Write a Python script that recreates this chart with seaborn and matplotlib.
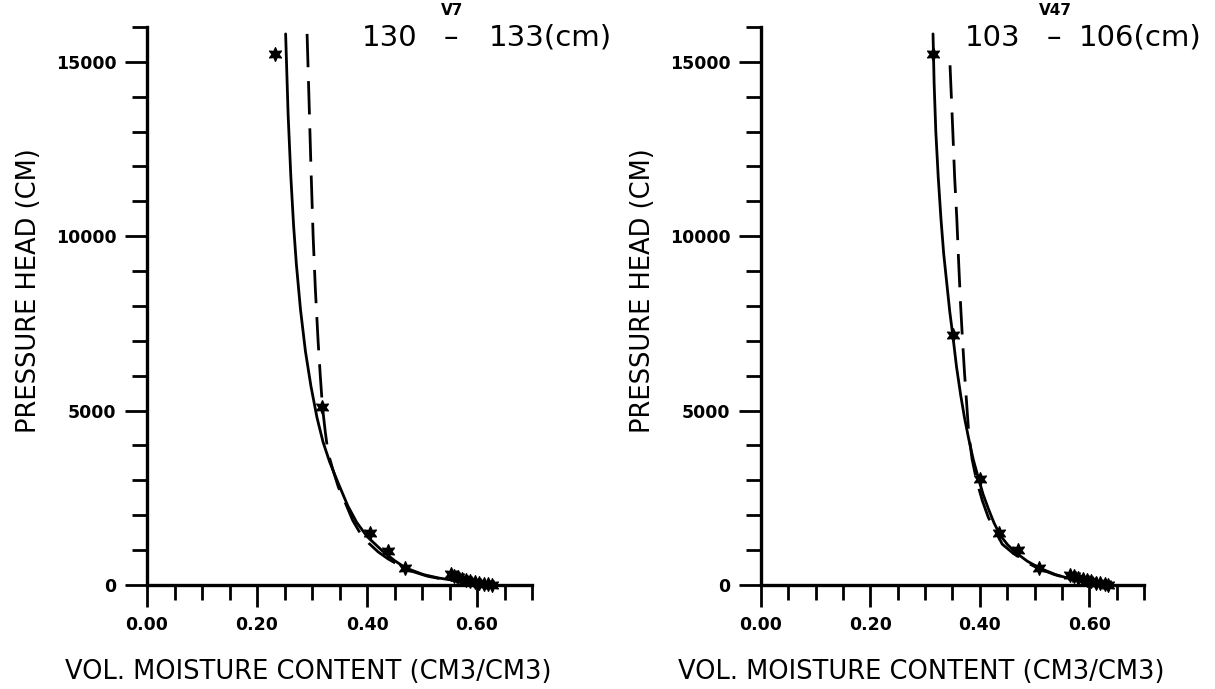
import matplotlib
matplotlib.use("Agg")
import matplotlib.pyplot as plt
import seaborn as sns
import pandas as pd
from matplotlib.ticker import MultipleLocator, FixedLocator

# ---- left panel: V7, 130-133 cm ----
v7_obs_theta = [0.233, 0.319, 0.405, 0.438, 0.469, 0.552, 0.558, 0.565, 0.572, 0.580, 0.588, 0.596, 0.604, 0.612, 0.620, 0.627]
v7_obs_head = [15215, 5105, 1490, 975, 490, 300, 260, 220, 180, 145, 110, 80, 55, 35, 15, 5]

v7_fit_head = [15800, 13500, 11700, 10300, 9200, 7900, 6700, 5700, 4800, 4100, 3530, 2980, 2270, 1800, 1390, 975, 700, 490, 300, 200, 100, 40, 0]
v7_fit_theta = [0.252, 0.2565, 0.2615, 0.2665, 0.2715, 0.279, 0.288, 0.298, 0.309, 0.320, 0.332, 0.346, 0.365, 0.381, 0.400, 0.428, 0.450, 0.470, 0.502, 0.530, 0.570, 0.600, 0.627]

v7_alt_head = [15800, 14200, 12000, 10000, 8500, 7000, 6000, 5100, 4400, 3800, 3300, 2800, 2300, 1850, 1500, 1200, 950, 750, 550, 400, 250, 130, 40, 0]
v7_alt_theta = [0.291, 0.294, 0.298, 0.302, 0.306, 0.311, 0.315, 0.319, 0.324, 0.329, 0.338, 0.348, 0.362, 0.374, 0.387, 0.403, 0.420, 0.438, 0.460, 0.480, 0.510, 0.550, 0.595, 0.627]

# ---- right panel: V47, 103-106 cm ----
v47_obs_theta = [0.3145, 0.3507, 0.400, 0.436, 0.470, 0.509, 0.565, 0.572, 0.580, 0.588, 0.596, 0.604, 0.612, 0.620, 0.628, 0.634]
v47_obs_head = [15214, 7154, 3035, 1486, 1010, 490, 280, 245, 205, 170, 135, 100, 70, 45, 20, 5]

v47_fit_head = [15800, 14400, 13000, 11700, 10500, 9500, 8600, 7850, 7150, 6250, 5450, 4800, 4200, 3600, 3050, 2600, 2180, 1780, 1420, 1150, 920, 680, 480, 300, 165, 60, 0]
v47_fit_theta = [0.3145, 0.3165, 0.3196, 0.324, 0.329, 0.334, 0.340, 0.345, 0.3507, 0.3575, 0.365, 0.372, 0.3796, 0.388, 0.3977, 0.406, 0.4158, 0.426, 0.4375, 0.451, 0.4664, 0.487, 0.510, 0.538, 0.5676, 0.600, 0.636]

v47_alt_head = [14900, 13000, 11700, 10500, 9200, 8000, 7000, 6100, 5200, 4300, 3600, 3000, 2400, 1930, 1500, 1170, 920, 680, 480, 300, 165, 60, 0]
v47_alt_theta = [0.3456, 0.3507, 0.354, 0.358, 0.3615, 0.365, 0.3685, 0.372, 0.376, 0.380, 0.386, 0.394, 0.405, 0.4158, 0.430, 0.441, 0.460, 0.482, 0.506, 0.536, 0.566, 0.600, 0.636]

x_major = [0.0, 0.2, 0.4, 0.6]
x_labels = ["0.00", "0.20", "0.40", "0.60"]
y_major = [0, 5000, 10000, 15000]
y_labels = ["0", "5000", "10000", "15000"]

panels = [
    dict(obs=(v7_obs_theta, v7_obs_head), fit=(v7_fit_theta, v7_fit_head), alt=(v7_alt_theta, v7_alt_head),
         left="130", right="133(cm)", tag="V7", pos=(0.558, 0.788, 1.208)),
    dict(obs=(v47_obs_theta, v47_obs_head), fit=(v47_fit_theta, v47_fit_head), alt=(v47_alt_theta, v47_alt_head),
         left="103", right="106(cm)", tag="V47", pos=(0.533, 0.764, 1.150)),
]

sns.set_style("ticks")
plt.rcParams["font.family"] = ["DejaVu Sans"]
plt.rcParams["text.color"] = "black"
plt.rcParams["axes.labelcolor"] = "black"
plt.rcParams["xtick.color"] = "black"
plt.rcParams["ytick.color"] = "black"

fig = plt.figure(figsize=(12.15, 6.89), dpi=100)
ax_rects = [[0.121, 0.151, 0.3169, 0.8099], [0.6263, 0.151, 0.3152, 0.8099]]

for rect, p in zip(ax_rects, panels):
    ax = fig.add_axes(rect)
    fit = pd.DataFrame({"theta": p["fit"][0], "head": p["fit"][1]})
    alt = pd.DataFrame({"theta": p["alt"][0], "head": p["alt"][1]})
    obs = pd.DataFrame({"theta": p["obs"][0], "head": p["obs"][1]})

    sns.lineplot(data=fit, x="theta", y="head", sort=False, estimator=None,
                 color="black", linewidth=2.0, ax=ax)
    sns.lineplot(data=alt, x="theta", y="head", sort=False, estimator=None,
                 color="black", linewidth=2.0, linestyle=(0, (12, 5)), ax=ax)
    sns.scatterplot(data=obs, x="theta", y="head", marker=(6, 1, 0), s=95, color="black",
                    edgecolor="black", linewidth=1.0, ax=ax, clip_on=False, zorder=5)

    ax.set_xlim(0, 0.70)
    ax.set_ylim(0, 16000)
    ax.xaxis.set_major_locator(FixedLocator(x_major))
    ax.set_xticklabels(x_labels)
    ax.xaxis.set_minor_locator(MultipleLocator(0.05))
    ax.yaxis.set_major_locator(FixedLocator(y_major))
    ax.set_yticklabels(y_labels)
    ax.yaxis.set_minor_locator(MultipleLocator(1000))

    ax.tick_params(which="major", length=16, width=2.0, direction="out", pad=6,
                   labelsize=12.5, color="black", labelcolor="black")
    ax.tick_params(which="minor", length=11, width=2.0, direction="out", color="black")
    for lab in ax.get_xticklabels() + ax.get_yticklabels():
        lab.set_fontweight("bold")

    sns.despine(ax=ax)
    for s in ["left", "bottom"]:
        ax.spines[s].set_linewidth(2.4)
        ax.spines[s].set_color("black")

    ax.set_xlabel("VOL. MOISTURE CONTENT (CM3/CM3)", fontsize=18.5, color="black")
    ax.set_ylabel("PRESSURE HEAD (CM)", fontsize=18.5, color="black")
    ax.xaxis.set_label_coords(0.418, -0.133)
    ax.yaxis.set_label_coords(-0.273, 0.527)

    x0, xd, x1 = p["pos"]
    ax.text(x0, 0.966, p["left"], transform=ax.transAxes, fontsize=21, ha="left", va="baseline", clip_on=False)
    ax.text(xd, 0.966, "\u2013", transform=ax.transAxes, fontsize=21, ha="center", va="baseline", clip_on=False)
    ax.text(x1, 0.966, p["right"], transform=ax.transAxes, fontsize=21, ha="right", va="baseline", clip_on=False)
    ax.text(xd + 0.004, 1.030, p["tag"], transform=ax.transAxes, fontsize=11, fontweight="bold",
            ha="center", va="center", clip_on=False)

fig.savefig("out.png", dpi=100, facecolor="white")
